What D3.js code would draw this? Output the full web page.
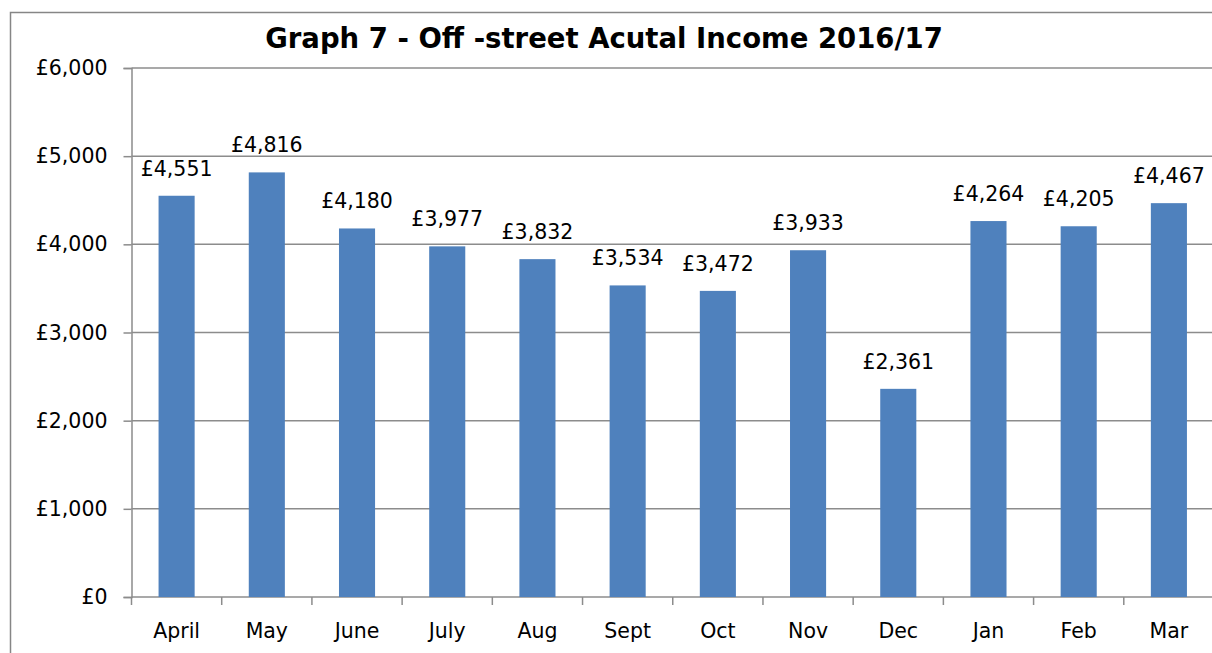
<!DOCTYPE html>
<html><head><meta charset="utf-8">
<script src="https://cdn.jsdelivr.net/npm/d3@7"></script>
<style>body{margin:0;background:#fff;}svg{display:block;}svg text{font-family:"DejaVu Sans",sans-serif;}</style>
</head><body>
<svg id="c" width="1212" height="653"></svg>
<script>
const categories = ["April","May","June","July","Aug","Sept","Oct","Nov","Dec","Jan","Feb","Mar"];
const values = [4551,4816,4180,3977,3832,3534,3472,3933,2361,4264,4205,4467];
const yTicks = [0,1000,2000,3000,4000,5000,6000];
const title = "Graph 7 - Off -street Acutal Income 2016/17";

(function(){
const svg = d3.select("#c");
const pL = 131.5, pR = 1214, pT = 68, pB = 597;
const x = d3.scaleBand().domain(categories).range([pL, pR]).paddingInner(0.6).paddingOuter(0.3);
const y = d3.scaleLinear().domain([0,6000]).range([pB, pT]);
const fmt = v => "£" + d3.format(",")(v);
const fs = 20.5;
const ff = "DejaVu Sans, sans-serif";

// outer border
svg.append("rect").attr("x",10.5).attr("y",12.5).attr("width",1300).attr("height",700)
  .attr("fill","none").attr("stroke","#868686").attr("stroke-width",1.5);

// gridlines
svg.append("g").selectAll("line").data(yTicks.filter(d=>d>0)).join("line")
  .attr("x1",pL).attr("x2",1212).attr("y1",d=>y(d)).attr("y2",d=>y(d))
  .attr("stroke","#8c8c8c").attr("stroke-width",1.5);

// y axis
const ya = svg.append("g").attr("transform",`translate(${pL},0)`)
  .call(d3.axisLeft(y).tickValues(yTicks).tickFormat(fmt).tickSize(8).tickPadding(16))
  .attr("font-family",ff).attr("font-size",fs);
ya.select(".domain").attr("stroke","#8c8c8c").attr("stroke-width",1.5);
ya.selectAll(".tick line").attr("stroke","#8c8c8c").attr("stroke-width",1.5);
ya.selectAll("text").attr("font-size",fs).attr("font-family",ff).attr("fill","#000");

// x axis
const xa = svg.append("g").attr("transform",`translate(0,${pB})`)
  .call(d3.axisBottom(x).tickSize(0).tickPadding(0))
  .attr("font-family",ff).attr("font-size",fs);
xa.select(".domain").attr("d",`M${pL},0H1212`).attr("stroke","#8c8c8c").attr("stroke-width",1.5);
xa.selectAll("text").attr("font-size",fs).attr("font-family",ff).attr("fill","#000").attr("dy",null).attr("y",41);
const step = x.step();
svg.append("g").selectAll("line").data(d3.range(0,12)).join("line")
  .attr("x1",i=>pL+i*step).attr("x2",i=>pL+i*step).attr("y1",pB).attr("y2",pB+8)
  .attr("stroke","#8c8c8c").attr("stroke-width",1.5);

// bars
svg.append("g").selectAll("rect").data(values).join("rect")
  .attr("x",(d,i)=>x(categories[i])).attr("width",x.bandwidth())
  .attr("y",d=>y(d)).attr("height",d=>pB-y(d)).attr("fill","#4F81BD");

// labels
svg.append("g").selectAll("text").data(values).join("text")
  .attr("x",(d,i)=>x(categories[i])+x.bandwidth()/2).attr("y",d=>y(d)-20)
  .attr("text-anchor","middle").attr("font-size",fs).attr("fill","#000").text(fmt);

// title
svg.append("text").attr("x",604).attr("y",48).attr("text-anchor","middle")
  .attr("font-size",27.5).attr("font-weight","bold").attr("fill","#000").text(title);
})();
</script>
</body></html>
